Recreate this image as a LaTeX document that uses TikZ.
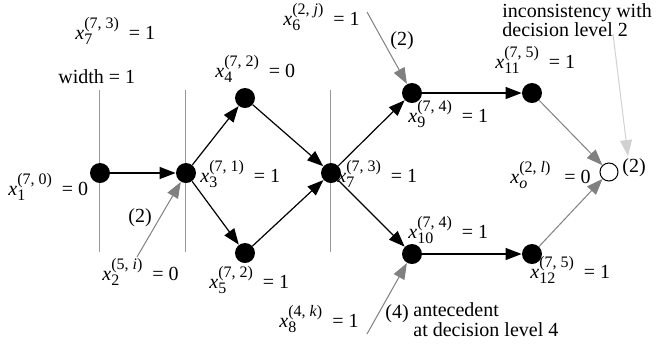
\documentclass[tikz,border=0pt]{standalone}
\usepackage{fontspec}
\setmainfont{Liberation Serif}
\usetikzlibrary{arrows.meta}

% variable with level/antecedent superscript
\newcommand{\xvar}[2]{\textit{x}\rlap{\raisebox{-0.6ex}{\footnotesize #1}}\raisebox{1.1ex}{\footnotesize #2}\hspace{5pt}}

\tikzset{
  dot/.style={circle, fill=black, inner sep=0pt, minimum size=10pt},
  opendot/.style={circle, draw=black, line width=0.5pt, inner sep=0pt, minimum size=9pt},
  lbl/.style={anchor=base west, inner sep=0pt},
  imp/.style={-{Triangle[length=8pt,width=6pt]}, line width=0.6pt},
  ante/.style={-{Triangle[length=8pt,width=6pt]}, draw=gray, line width=0.5pt},
  cut/.style={draw=gray!80, line width=0.5pt}
}

\begin{document}
\begin{tikzpicture}[x=0.5pt, y=-0.5pt]
\useasboundingbox (0,0) rectangle (661,345);

% cut lines
\draw[cut] (100,90) -- (100,252);
\draw[cut] (186,90) -- (186,252);
\draw[cut] (331,90) -- (331,252);

% implication graph
\node[dot] (x1) at (100,173) {};
\node[dot] (x3) at (186,173) {};
\node[dot] (x4) at (245,98) {};
\node[dot] (x5) at (245,253) {};
\node[dot] (x7) at (331,173) {};
\node[dot] (x9) at (412,93) {};
\node[dot] (x10) at (412,254) {};
\node[dot] (x11) at (532,93) {};
\node[dot] (x12) at (532,254) {};
\node[opendot] (xo) at (609,172) {};

\coordinate (from6) at (367,12);
\coordinate (from2) at (137,257);
\coordinate (from8) at (367,334);
\coordinate (fromnote) at (613,34);
\coordinate (tonote) at (628,156);

\draw[imp] (x1) -- (x3);
\draw[imp] (x3) -- (x4);
\draw[imp] (x3) -- (x5);
\draw[imp] (x4) -- (x7);
\draw[imp] (x5) -- (x7);
\draw[imp] (x7) -- (x9);
\draw[imp] (x7) -- (x10);
\draw[imp] (x9) -- (x11);
\draw[imp] (x10) -- (x12);
\draw[ante] (x11) -- (xo);
\draw[ante] (x12) -- (xo);
\draw[ante] (from6) -- (x9);
\draw[ante] (from2) -- (x3);
\draw[ante] (from8) -- (x10);
\draw[-{Triangle[length=8pt,width=6pt]}, draw=black!18, line width=0.5pt] (fromnote) -- (tonote);

% labels
\node[lbl] (l7top) at (75,39) {\xvar{7}{(7, 3)}= 1};
\node[lbl] (width) at (58,83) {width = 1};
\node[lbl] (l4) at (215,77) {\xvar{4}{(7, 2)}= 0};
\node[lbl] (l6) at (283,25) {\xvar{6}{(2, \textit{j})}= 1};
\node[lbl] (l3) at (200,182) {\xvar{3}{(7, 1)}= 1};
\node[lbl] (l1) at (8,195) {\xvar{1}{(7, 0)}= 0};
\node[lbl] (lev2a) at (128,222) {(2)};
\node[lbl] (l2) at (102,280) {\xvar{2}{(5, \textit{i})}= 0};
\node[lbl] (l5) at (209,288) {\xvar{5}{(7, 2)}= 1};
\node[lbl] (l7) at (337,182) {\xvar{7}{(7, 3)}= 1};
\node[lbl] (lev2b) at (390,45) {(2)};
\node[lbl] (l9) at (408,122) {\xvar{9}{(7, 4)}= 1};
\node[lbl] (l11) at (495,68) {\xvar{11}{(7, 5)}= 1};
\node[anchor=west, inner sep=0pt, align=left] (note) at (502,20) {inconsistency with\\[-2.5pt]decision level 2};
\node[lbl] (lo) at (510,183) {\xvar{\textit{o}}{(2, \textit{l})}\hspace{-5pt}\hspace{7pt}= 0};
\node[lbl] (lev2c) at (622,172) {(2)};
\node[lbl] (l10) at (408,238) {\xvar{10}{(7, 4)}= 1};
\node[lbl] (l12) at (530,278) {\xvar{12}{(7, 5)}= 1};
\node[lbl] (l8) at (279,327) {\xvar{8}{(4, \textit{k})}= 1};
\node[lbl] (lev4) at (385,318) {(4)};
\node[anchor=west, inner sep=0pt, align=left] (ante4) at (413,320) {antecedent\\[-2pt]at decision level 4};
\end{tikzpicture}
\end{document}
